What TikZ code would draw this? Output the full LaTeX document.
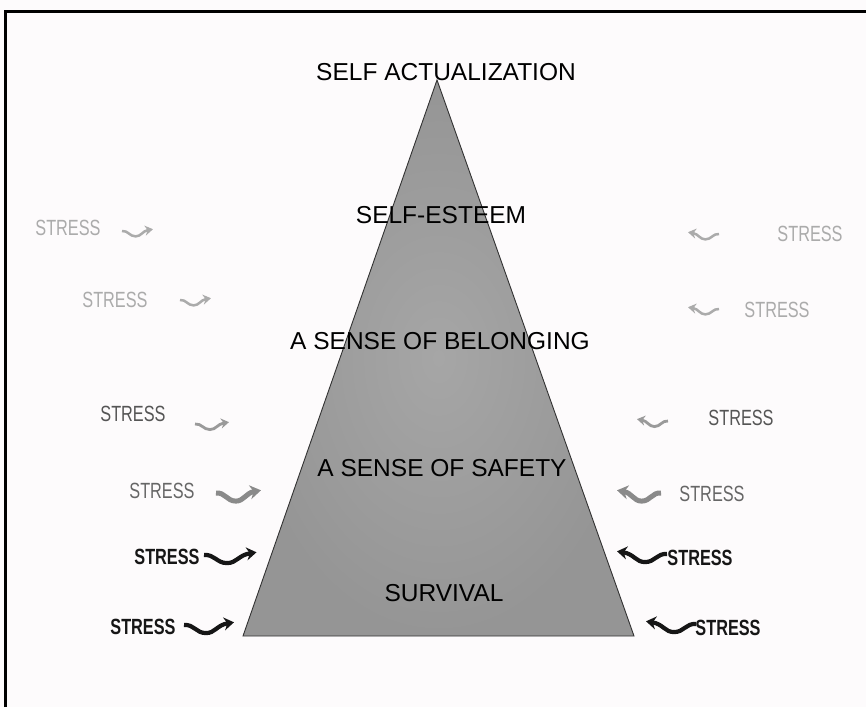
\documentclass[tikz,border=0pt]{standalone}
\usepackage{fontspec}
\usepackage{graphicx}
\setmainfont{Liberation Sans}
\usetikzlibrary{arrows.meta}
\definecolor{pagebg}{HTML}{FDFBFC}
\definecolor{lightg}{HTML}{ABABAB}
\definecolor{midg}{HTML}{555555}
\definecolor{midg2}{HTML}{666666}
\definecolor{arrg}{HTML}{9A9A9A}
\definecolor{arrg2}{HTML}{8A8A8A}
\definecolor{darkk}{HTML}{161616}
\definecolor{triin}{HTML}{A6A6A6}
\definecolor{triout}{HTML}{959595}
\newcommand{\strs}{\scalebox{0.74}[1]{STRESS}}
\tikzset{
  level/.style={font=\fontsize{24.5}{26}\selectfont, text=black, inner sep=0pt},
  stress/.style={font=\fontsize{22}{24}\selectfont, inner sep=0pt},
  stressb/.style={font=\bfseries\fontsize{22}{24}\selectfont, inner sep=0pt, text=darkk},
  wave/.pic={\draw[pic actions] (0,0) .. controls (10,-1) and (12,9) .. (22,9) .. controls (31,9) and (33,0) .. (50,-3);},
  wlight/.style={draw=lightg, line width=2.5pt, -{Stealth[length=8pt,width=10pt]}},
  wmid/.style={draw=arrg, line width=2.8pt, -{Stealth[length=8pt,width=10pt]}},
  wmid2/.style={draw=arrg2, line width=5pt, -{Stealth[length=11pt,width=14pt]}},
  wdark/.style={draw=darkk, line width=4.2pt, -{Stealth[length=10pt,width=13pt]}},
}
\begin{document}
\begin{tikzpicture}[x=1pt,y=-1pt]
\useasboundingbox[fill=pagebg] (0,0) rectangle (866,707);
% frame (top and left)
\draw[line width=3pt] (5.5,707) -- (5.5,11) -- (866,11);
% triangle
\coordinate (apex) at (437,80);
\coordinate (bl) at (243,636);
\coordinate (br) at (634,636);
\shade[inner color=triin, outer color=triout] (apex) -- (bl) -- (br) -- cycle;
\draw[line width=0.9pt, draw={rgb,255:red,50;green,50;blue,50}] (apex) -- (bl) -- (br) -- cycle;
% level labels
\node[level] (sa) at (446,72) {SELF ACTUALIZATION};
\node[level] (se) at (441,215) {SELF-ESTEEM};
\node[level] (sb) at (440,341) {A SENSE OF BELONGING};
\node[level] (ss) at (442,468) {A SENSE OF SAFETY};
\node[level] (sv) at (444,593) {SURVIVAL};
% left stress labels
\node[stress, text=lightg] (l1) at (68,228) {\strs};
\node[stress, text=lightg] (l2) at (115,300) {\strs};
\node[stress, text=midg] (l3) at (133,414) {\strs};
\node[stress, text=midg2] (l4) at (162,491) {\strs};
\node[stressb] (l5) at (167,557) {\strs};
\node[stressb] (l6) at (143,627) {\strs};
% right stress labels
\node[stress, text=lightg] (r1) at (810,234) {\strs};
\node[stress, text=lightg] (r2) at (777,310) {\strs};
\node[stress, text=midg] (r3) at (741,418) {\strs};
\node[stress, text=midg2] (r4) at (712,494) {\strs};
\node[stressb] (r5) at (700,558) {\strs};
\node[stressb] (r6) at (728,628) {\strs};
% left wavy arrows
\pic[wlight] at (122,231) [xscale=0.62,yscale=0.6] {wave};
\pic[wlight] at (180,300) [xscale=0.62,yscale=0.6] {wave};
\pic[wmid] at (195,424) [xscale=0.68,yscale=0.62] {wave};
\pic[wmid2] at (216,493) [xscale=0.9,yscale=0.9] {wave};
\pic[wdark] at (204,555) [xscale=1.05,yscale=0.9] {wave};
\pic[wdark] at (184,625) [xscale=1.0,yscale=0.9] {wave};
% right wavy arrows
\pic[wlight] at (719,234) [xscale=-0.62,yscale=0.6] {wave};
\pic[wlight] at (719,309) [xscale=-0.62,yscale=0.6] {wave};
\pic[wmid] at (668,421) [xscale=-0.62,yscale=0.62] {wave};
\pic[wmid2] at (661,493) [xscale=-0.88,yscale=0.9] {wave};
\pic[wdark] at (667,554) [xscale=-1.0,yscale=0.9] {wave};
\pic[wdark] at (696,624) [xscale=-1.0,yscale=0.9] {wave};
\end{tikzpicture}
\end{document}
